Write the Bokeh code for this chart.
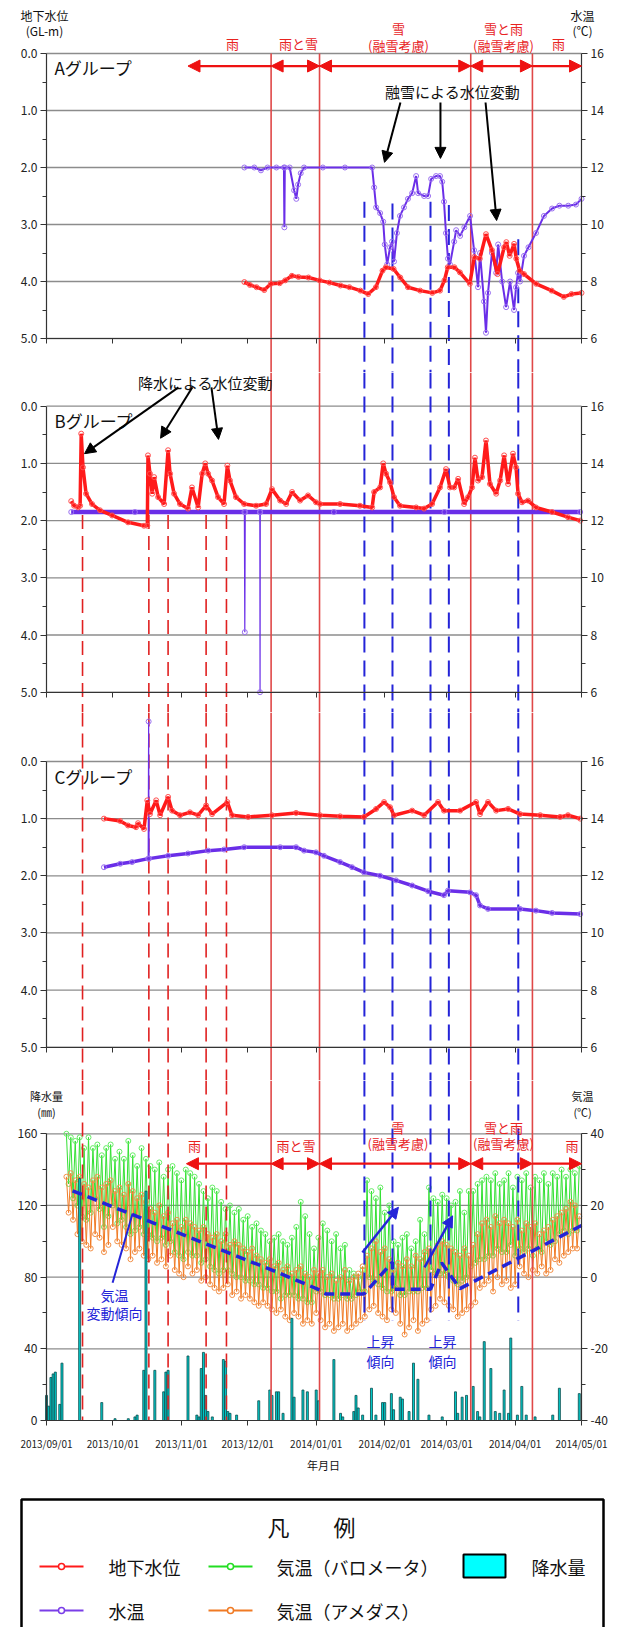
import numpy as np
from bokeh.plotting import figure
from bokeh.layouts import column
from bokeh.models import Range1d, LinearAxis, FixedTicker, Arrow, NormalHead
from bokeh.core.properties import value
from bokeh.embed import file_html
from bokeh.resources import INLINE

FONT = "Noto Sans CJK JP"

# ------------------------------------------------------------------ data
# x values: days since 2013/09/01
month_days = [0, 30, 61, 91, 122, 153, 181, 212, 242]
month_labels = ["2013/09/01", "2013/10/01", "2013/11/01", "2013/12/01", "2014/01/01",
                "2014/02/01", "2014/03/01", "2014/04/01", "2014/05/01"]
depth_ticks = [0, 1, 2, 3, 4, 5]
depth_labels = ["0.0", "1.0", "2.0", "3.0", "4.0", "5.0"]
wtemp_ticks = [6, 8, 10, 12, 14, 16]
wtemp_labels = ["6", "8", "10", "12", "14", "16"]
rain_ticks = [0, 40, 80, 120, 160]
rain_labels = ["0", "40", "80", "120", "160"]
air_ticks = [-40, -20, 0, 20, 40]
air_labels = ["-40", "-20", "0", "20", "40"]

period_edges = [64.0, 101.6, 123.5, 191.9, 219.8, 242.0]
period_names = ["雨", "雨と雪", "雪", "雪と雨", "雨"]
period_notes = ["", "", "(融雪考慮)", "(融雪考慮)", ""]

red_solid_days = [101.6, 123.5, 191.9, 219.8]
red_dash_days = [16.3, 46.3, 55.0, 72.2, 81.4]
blue_dash_days = [143.8, 156.5, 173.7, 182.0, 213.4]
blue_dash_top_a = [2.60, 2.63, 2.60, 2.66, 3.26]

# A group
a_gw_day = [89.5, 92, 95, 98.5, 101.5, 105.5, 108, 111, 114, 118.5, 123.5, 128, 133, 137, 142,
            145.5, 149, 152, 153.5, 157, 160, 163.5, 169, 174.5, 178, 180, 181.5, 184.5, 187, 191.5,
            193.5, 196, 198.8, 201.5, 204, 207, 208, 209.5, 211.5, 212.5, 214, 216, 221.5, 228.5,
            234, 237.5, 242]
a_gw = [4.01, 4.06, 4.10, 4.15, 4.04, 4.03, 3.98, 3.90, 3.92, 3.93, 3.98, 4.02, 4.07, 4.10, 4.16,
        4.22, 4.10, 3.81, 3.75, 3.78, 3.93, 4.10, 4.16, 4.20, 4.16, 3.98, 3.75, 3.75, 3.84, 4.04,
        3.57, 3.60, 3.17, 3.45, 3.87, 3.40, 3.31, 3.55, 3.34, 3.60, 3.81, 3.87, 4.04, 4.16,
        4.27, 4.22, 4.20]
a_wt_day = [89.5, 94, 97, 100, 104, 107.4, 107.6, 107.8, 110, 112, 113, 113.8, 115, 116.5, 125,
            135, 147.3, 148.2, 149.1, 150.9, 152.3, 153, 154.1, 155.4, 156.3, 157.2, 158.5, 159.9,
            161.7, 163.5, 165.4, 167.2, 168.1, 170.8, 172.6, 174, 176.2, 178, 179, 179.8, 180.7,
            181.6, 182.5, 184.4, 185.3, 187.1, 189, 191.6, 193.4, 195.2, 196.1, 197.9, 198.8,
            199.7, 201.5, 203.4, 204.3, 206.1, 207.9, 209.7, 211.5, 212.4, 213.3, 214.2, 216, 218,
            221.4, 225, 228.7, 232, 236, 239.5, 242]
a_wt = [12.0, 12.0, 11.9, 12.0, 12.0, 12.0, 9.9, 12.0, 12.0, 11.2, 10.9, 11.4, 11.8, 12.0, 12.0,
        12.0, 12.0, 11.3, 10.6, 10.4, 10.1, 9.3, 8.6, 9.2, 9.4, 8.7, 9.7, 10.3,
        10.6, 10.9, 11.1, 11.7, 11.1, 11.0, 11.0, 11.6, 11.7, 11.7, 11.5, 10.8, 9.7,
        8.8, 8.6, 9.4, 9.8, 9.6, 9.9, 10.3, 9.1, 7.8, 9.0, 7.3, 6.2,
        7.6, 9.0, 8.3, 9.3, 8.0, 7.1, 8.0, 7.0, 7.8, 8.3, 8.0, 8.9, 9.2,
        9.7, 10.3, 10.56, 10.66, 10.66, 10.7, 10.9]

# B group
b_gw_day = [11.2, 12.5, 14.3, 15.2, 15.7, 16.5, 17.9, 20.6, 24.2, 29.7, 36.9, 44.1, 45.6, 45.9,
            46.8, 47.8, 48.7, 50.5, 53.2, 55.0, 55.9, 57.7, 60.4, 64.0, 65.8, 68.6, 70.4, 71.8,
            73.1, 74.9, 77.6, 80.3, 81.8, 83.0, 85.7, 89.4, 94.8, 99.3, 102.0, 105.7, 108.4,
            111.1, 114.7, 118.3, 121.9, 123.7, 132.8, 141.8, 147.3, 148.2, 150.9, 152.3, 153.6,
            155.4, 157.2, 159.9, 167.2, 170.8, 174.4, 178.0, 180.7, 182.5, 184.4, 186.2, 188.9,
            190.7, 192.5, 193.8, 195.2, 197.0, 198.8, 200.6, 203.4, 205.2, 207.0, 208.8, 211.0,
            212.4, 213.3, 215.1, 217.8, 221.4, 228.7, 235.9, 241.4]
b_gw = [1.66, 1.74, 1.77, 1.74, 0.48, 1.07, 1.53, 1.71, 1.82, 1.91, 2.03, 2.09, 2.09, 0.86,
        1.18, 1.53, 1.24, 1.59, 1.71, 0.77, 1.18, 1.53, 1.71, 1.79, 1.42, 1.77, 1.18, 1.00,
        1.18, 1.30, 1.59, 1.71, 1.04, 1.30, 1.59, 1.71, 1.74, 1.71, 1.45, 1.65, 1.71,
        1.50, 1.65, 1.56, 1.68, 1.71, 1.71, 1.74, 1.77, 1.50, 1.42, 1.00, 1.18,
        1.33, 1.59, 1.74, 1.77, 1.79, 1.71, 1.42, 1.10, 1.42, 1.42, 1.27, 1.71,
        1.59, 1.42, 0.90, 1.30, 1.24, 0.60, 1.36, 1.53, 1.30, 0.86, 1.36, 0.83,
        1.07, 1.53, 1.68, 1.65, 1.77, 1.85, 1.94, 2.00]
b_wt_day = [11.2, 40, 89.5, 89.7, 89.9, 96.5, 96.6, 96.7, 130, 180, 241.4]
b_wt = [12.3, 12.3, 12.3, 8.1, 12.3, 12.3, 6.0, 12.3, 12.3, 12.3, 12.3]

# C group
c_gw_day = [26.0, 33.3, 36.9, 40.5, 41.4, 44.1, 45.6, 46.8, 49.6, 51.4, 55.0, 56.8, 60.4, 64.9,
            68.6, 72.2, 74.9, 81.8, 83.9, 91.2, 102.0, 112.9, 123.7, 132.8, 143.6, 149.1, 152.7,
            155.4, 157.2, 165.4, 170.8, 177.1, 179.8, 187.1, 194.3, 196.1, 199.7, 203.4, 208.8,
            214.2, 223.3, 232.3, 235.9, 241.4]
c_gw = [1.00, 1.04, 1.12, 1.15, 1.08, 1.18, 0.68, 0.92, 0.68, 0.94, 0.62, 0.86, 0.94, 0.89,
        0.94, 0.77, 0.92, 0.71, 0.94, 0.97, 0.94, 0.90, 0.94, 0.96, 0.97, 0.83, 0.71,
        0.80, 0.94, 0.86, 0.94, 0.71, 0.86, 0.86, 0.71, 0.92, 0.71, 0.86, 0.83,
        0.92, 0.94, 0.97, 0.94, 1.00]
c_wt_day = [26.0, 33.3, 38.7, 46.0, 46.2, 46.4, 55.0, 64.0, 73.1, 80.3, 89.4, 105.7, 112.9, 116.5,
            121.9, 125.5, 132.8, 138.2, 143.6, 150.9, 158.1, 165.4, 172.6, 179.8, 181.6, 191.6,
            194.3, 196.1, 199.7, 214.2, 221.4, 228.7, 241.4]
c_wt = [12.30, 12.42, 12.48, 12.60, 17.4, 12.60, 12.70, 12.78, 12.88, 12.92, 13.00, 13.00, 13.00,
        12.88, 12.82, 12.70, 12.48, 12.30, 12.12, 12.00, 11.84, 11.66, 11.46, 11.32, 11.48,
        11.42, 11.32, 10.96, 10.84, 10.84, 10.78, 10.70, 10.66]

# precipitation (mm/day)
rain_day = [0, 1, 2, 3, 4, 6, 7, 15, 25, 31, 37, 40, 41, 44, 45, 49, 53, 54, 55, 64, 68, 69, 70,
            71, 72, 73, 75, 80, 81, 82, 83, 86, 96, 101, 102, 104, 105, 107, 111, 112, 116, 118,
            122, 123, 130, 133, 134, 139, 140, 141, 143, 147, 149, 152, 153, 156, 157, 160, 161,
            164, 166, 168, 173, 179, 185, 186, 188, 190, 193, 195, 196, 198, 201, 203, 205, 207,
            209, 210, 213, 215, 217, 221, 229, 232, 241]
rain_mm = [14, 8, 24, 26, 27, 9, 32, 135, 10, 1, 1, 2, 3, 28, 128, 28, 16, 27, 28, 36, 3, 2, 29,
           38, 14, 5, 2, 34, 33, 5, 4, 3, 11, 17, 14, 16, 16, 4, 57, 13, 17, 16,
           17, 11, 34, 4, 2, 5, 14, 7, 3, 18, 3, 10, 10, 15, 6, 13, 12,
           5, 32, 23, 3, 2, 16, 4, 13, 14, 19, 5, 2, 44, 29, 5, 4, 17,
           4, 46, 3, 19, 3, 2, 3, 18, 15]

# air temperature, one reading per day from 2013/09/10 (alternating day / night readings)
air_day = list(range(9, 242))
air_baro = [40, 26, 39, 22, 38, 20, 39, 17, 36, 16,
            39, 18, 36, 22, 37, 19, 34, 14, 36, 17,
            37, 20, 33, 15, 35, 16, 33, 14, 38, 12,
            34, 13, 31, 14, 36, 12, 33, 12, 31, 11,
            30, 10, 32, 11, 28, 9, 30, 10, 31, 7,
            29, 6, 27, 5, 30, 7, 29, 6, 28, 6,
            26, 4, 24, 5, 22, 3, 25, 2, 24, 1,
            21, 2, 19, 2, 20, 1, 18, 0, 19, 0,
            16, -1, 17, -1, 14, -2, 15, -2, 13, -3,
            12, -3, 10, -4, 11, -4, 12, -6, 10, -5,
            9, -5, 11, -5, 14, -6, 21, -6, 17, -7,
            12, -7, 8, -4, 11, -4, 15, -5, 13, -5,
            10, -6, 12, -6, 8, -5, 9, -6, 2, -6,
            1, -5, 0, -4, 2, -4, 27, 0, 24, -1,
            22, -2, 25, -3, 18, -4, 20, -4, 10, -3,
            9, -5, 11, -5, 12, -4, 8, -4, 10, -4,
            16, -3, 12, -3, 25, 2, 22, 1, 21, 1,
            23, 1, 22, 0, 20, -1, 21, -2, 24, -1,
            18, 0, 24, 3, 24, 4, 26, 5, 27, 5,
            28, 6, 27, 6, 29, 8, 26, 7, 27, 7,
            29, 9, 25, 6, 28, 8, 27, 7, 29, 8,
            25, 6, 28, 8, 27, 7, 29, 10, 26, 9,
            29, 10, 28, 12, 30, 13, 28, 12, 30, 13,
            29, 13, 31]
air_amedas = [28, 18, 29, 16, 27, 12, 28, 10, 26, 9,
              25, 8, 27, 12, 28, 11, 25, 7, 26, 9,
              27, 14, 24, 10, 25, 9, 23, 8, 26, 5,
              24, 7, 22, 8, 23, 6, 21, 5, 19, 6,
              18, 4, 20, 5, 17, 3, 18, 6, 15, 2,
              16, 1, 14, 0, 16, 3, 15, 1, 14, 2,
              13, -1, 14, 0, 12, -2, 11, -3, 12, -4,
              10, -3, 12, -2, 9, -5, 10, -4, 9, -6,
              8, -5, 7, -6, 8, -7, 6, -8, 5, -7,
              4, -8, 5, -9, 3, -10, 4, -9, 2, -11,
              3, -12, 1, -10, 2, -11, 3, -13, 1, -12,
              0, -13, 2, -10, 1, -12, 2, -14, 0, -13,
              1, -15, -1, -14, 0, -13, 2, -15, -1, -14,
              0, -13, 1, -12, 3, -11, 6, -9, 8, -8,
              10, -10, 7, -11, 8, -12, 5, -9, 2, -10,
              4, -13, 3, -16, 5, -14, 3, -12, 6, -15,
              5, -13, 7, -12, 8, -9, 7, -8, 9, -6,
              10, -7, 9, -8, 8, -9, 7, -11, 6, -10,
              8, -9, 6, -8, 9, -7, 12, -3, 15, -2,
              16, -1, 14, -4, 17, 0, 15, -2, 16, -1,
              15, -3, 14, -2, 16, 3, 13, 1, 15, 0,
              14, 2, 15, 1, 12, 3, 13, 1, 14, 2,
              16, 5, 17, 4, 18, 6, 19, 7, 21, 8,
              20, 8, 17]

# air temperature trend (blue dashed)
trend_day = [11.8, 102.0, 123.7, 126.4, 143.6, 156.5, 156.5, 173.7, 178.7, 187.0, 242.0]
trend_temp = [24.1, 1.95, -3.6, -4.7, -4.7, 4.2, -3.4, -3.4, 4.0, -3.2, 14.4]

legend_labels = ["地下水位", "気温（バロメータ）", "降水量", "水温", "気温（アメダス）"]

# ------------------------------------------------------------------ colours
RED = "#ff1a1a"
RED_MK = "#ff5050"
RED_LINE = "#e04848"
RED_TXT = "#e8231f"
PURPLE = "#6a2ee8"
PURPLE_MK = "#9a70f0"
BLUE = "#2424d8"
GREEN = "#33e033"
ORANGE = "#f07a24"
GRID = "#8c8c8c"
AXIS = "#333333"

# ------------------------------------------------------------------ layout helpers
W = 626
FX0, FX1 = 46.0, 581.0          # frame pixel of day 0 / day 242
PPD = (FX1 - FX0) / 242.0
xr = Range1d(-FX0 / PPD, 242.0 + (W - FX1) / PPD)


def base_fig(h, yr):
    p = figure(width=W, height=h, x_range=xr, y_range=yr, x_axis_type=None, y_axis_type=None,
               toolbar_location=None, output_backend="svg", min_border=0)
    p.outline_line_color = None
    p.border_fill_color = "white"
    p.background_fill_color = "white"
    return p


def style_axis(ax, size="12px"):
    ax.axis_line_color = AXIS
    ax.axis_line_width = 1.2
    ax.major_tick_line_color = AXIS
    ax.major_tick_out = 6
    ax.major_tick_in = 0
    ax.minor_tick_line_color = AXIS
    ax.minor_tick_out = 4
    ax.minor_tick_in = 0
    ax.major_label_text_font = FONT
    ax.major_label_text_font_size = size
    ax.major_label_text_color = "#222222"
    ax.major_label_standoff = 3


def txt(p, x, y, s, size, color="#111111", align="center", yname="default"):
    p.text(x=[x], y=[y], text=[s], text_font=value(FONT), text_font_size=value(size),
           text_color=color, text_align=align, text_baseline="middle", y_range_name=yname)


def arrow(p, x0, y0, x1, y1, color, lw=2, head=10, yname="default", start=False, end=True):
    a = Arrow(x_start=x0, y_start=y0, x_end=x1, y_end=y1, line_color=color, line_width=lw,
              y_range_name=yname,
              start=NormalHead(size=head, fill_color=color, line_color=color) if start else None,
              end=NormalHead(size=head, fill_color=color, line_color=color) if end else None)
    p.add_layout(a)


def depth_panel(top, bottom, zero, unit):
    d_top = (top - zero) / unit
    d_bot = (bottom - zero) / unit
    p = base_fig(int(bottom - top), Range1d(d_bot, d_top))
    p.extra_y_ranges = {"wt": Range1d(16 - 2 * d_bot, 16 - 2 * d_top)}
    n = len(depth_ticks)
    p.segment(x0=[0] * n, x1=[242] * n, y0=depth_ticks, y1=depth_ticks,
              line_color=GRID, line_width=1.3)
    yl = LinearAxis(fixed_location=0, bounds=(0, 5),
                    ticker=FixedTicker(ticks=depth_ticks, minor_ticks=[0.5, 1.5, 2.5, 3.5, 4.5]),
                    major_label_overrides=dict(zip(depth_ticks, depth_labels)))
    style_axis(yl)
    p.add_layout(yl, "left")
    yr2 = LinearAxis(y_range_name="wt", fixed_location=242, bounds=(6, 16),
                     ticker=FixedTicker(ticks=wtemp_ticks, minor_ticks=[7, 9, 11, 13, 15]),
                     major_label_overrides=dict(zip(wtemp_ticks, wtemp_labels)))
    style_axis(yr2)
    p.add_layout(yr2, "right")
    xa = LinearAxis(fixed_location=5, bounds=(0, 242), ticker=FixedTicker(ticks=month_days),
                    major_label_overrides={d: "" for d in month_days})
    style_axis(xa)
    xa.major_tick_out = 5
    p.add_layout(xa, "below")
    return p, d_top, d_bot


def series(p, x, y, color, mk, lw, yname="default", band=None, size=5):
    p.line(x, y, line_color=color, line_width=lw if band is None else 1.2, y_range_name=yname)
    if band is not None:
        bx = [xi for xi, k in zip(x, band) if k]
        by = [yi for yi, k in zip(y, band) if k]
        p.line(bx, by, line_color=color, line_width=lw, y_range_name=yname)
    p.scatter(x, y, marker="circle", size=size, fill_color=None, line_color=mk, line_width=1,
              y_range_name=yname)


# ------------------------------------------------------------------ panel A
pa, a_top, a_bot = depth_panel(0, 372, 53.0, 57.0)
pa.segment(x0=red_solid_days, x1=red_solid_days, y0=[0] * 4, y1=[a_bot] * 4,
           line_color=RED_LINE, line_width=1.6)
pa.segment(x0=blue_dash_days, x1=blue_dash_days, y0=blue_dash_top_a, y1=[a_bot] * 5,
           line_color=BLUE, line_width=2, line_dash="16 8")
series(pa, a_wt_day, a_wt, PURPLE, PURPLE_MK, 2, "wt")
series(pa, a_gw_day, a_gw, RED, RED_MK, 3.5)
txt(pa, -0.9, -0.667, "地下水位", "12px")
txt(pa, -0.9, -0.40, "(GL-m)", "12px")
txt(pa, 242.5, -0.667, "水温", "12px")
txt(pa, 242.5, -0.40, "(℃)", "12px")
a_lab_x = [84.1, 114.0, 159.2, 206.7, 231.6]
for i, nm in enumerate(period_names):
    if period_notes[i]:
        txt(pa, a_lab_x[i], -0.44, nm, "13px", RED_TXT)
        txt(pa, a_lab_x[i], -0.14, period_notes[i], "13px", RED_TXT)
    else:
        txt(pa, a_lab_x[i], -0.175, nm, "13px", RED_TXT)
for i in range(5):
    arrow(pa, period_edges[i], 0.22, period_edges[i + 1], 0.22, "#ee1111", lw=2.2, head=12,
          start=(i < 4), end=(i > 0))
txt(pa, 3.6, 0.25, "Aグループ", "17px", align="left")
txt(pa, 183.7, 0.667, "融雪による水位変動", "15px")
arrow(pa, 160.1, 0.86, 152.9, 1.91, "black", lw=2, head=11)
arrow(pa, 178.2, 0.86, 178.2, 1.84, "black", lw=2, head=11)
arrow(pa, 198.6, 0.86, 203.6, 2.93, "black", lw=2, head=11)

# ------------------------------------------------------------------ panel B
pb, b_top, b_bot = depth_panel(372, 712, 405.7, 57.2)
pb.segment(x0=red_solid_days, x1=red_solid_days, y0=[b_top] * 4, y1=[b_bot] * 4,
           line_color=RED_LINE, line_width=1.6)
pb.segment(x0=blue_dash_days, x1=blue_dash_days, y0=[b_top] * 5, y1=[b_bot] * 5,
           line_color=BLUE, line_width=2, line_dash="16 8")
pb.segment(x0=red_dash_days, x1=red_dash_days, y0=[1.9] * 5, y1=[b_bot] * 5,
           line_color="#e02020", line_width=1.6, line_dash="14 7")
series(pb, b_wt_day, b_wt, PURPLE, PURPLE_MK, 4.5, "wt", band=[v > 11 for v in b_wt])
series(pb, b_gw_day, b_gw, RED, RED_MK, 3.5)
txt(pb, 3.6, 0.25, "Bグループ", "17px", align="left")
txt(pb, 71.9, -0.41, "降水による水位変動", "15px")
arrow(pb, 59.7, -0.33, 17.2, 0.83, "black", lw=2, head=11)
arrow(pb, 66.0, -0.33, 51.6, 0.56, "black", lw=2, head=11)
arrow(pb, 74.6, -0.33, 77.8, 0.58, "black", lw=2, head=11)

# ------------------------------------------------------------------ panel C
pc, c_top, c_bot = depth_panel(712, 1080, 761.0, 57.14)
pc.segment(x0=red_solid_days, x1=red_solid_days, y0=[c_top] * 4, y1=[c_bot] * 4,
           line_color=RED_LINE, line_width=1.6)
pc.segment(x0=blue_dash_days, x1=blue_dash_days, y0=[c_top] * 5, y1=[c_bot] * 5,
           line_color=BLUE, line_width=2, line_dash="16 8")
pc.segment(x0=red_dash_days, x1=red_dash_days, y0=[c_top] * 5, y1=[c_bot] * 5,
           line_color="#e02020", line_width=1.6, line_dash="14 7")
series(pc, c_wt_day, c_wt, PURPLE, PURPLE_MK, 3.5, "wt", band=[v < 15 for v in c_wt])
series(pc, c_gw_day, c_gw, RED, RED_MK, 3.5)
txt(pc, 3.6, 0.27, "Cグループ", "17px", align="left")

# ------------------------------------------------------------------ panel D (+ legend)
D_TOP, D_BOT, D_ZERO, MM_PX = 1080, 1627, 1420.0, 1.792
TEMP_PX = 3.584
mm_top = (D_ZERO - D_TOP) / MM_PX
mm_bot = (D_ZERO - D_BOT) / MM_PX
pd_ = base_fig(D_BOT - D_TOP, Range1d(mm_bot, mm_top))
pd_.extra_y_ranges = {"air": Range1d((D_ZERO - D_BOT) / TEMP_PX - 40,
                                     (D_ZERO - D_TOP) / TEMP_PX - 40)}
pd_.segment(x0=[0] * 4, x1=[242] * 4, y0=rain_ticks[1:], y1=rain_ticks[1:],
            line_color=GRID, line_width=1.3)
series(pd_, air_day, air_baro, GREEN, "#66ee66", 1, "air", size=5)
series(pd_, air_day, air_amedas, ORANGE, "#f39048", 1, "air", size=5)
pd_.vbar(x=rain_day, top=rain_mm, bottom=0, width=0.9, fill_color="#00cccc",
         line_color="#0b4a4a", line_width=0.8)
pd_.segment(x0=red_solid_days, x1=red_solid_days, y0=[mm_top] * 4, y1=[0] * 4,
            line_color=RED_LINE, line_width=1.6)
pd_.segment(x0=blue_dash_days, x1=blue_dash_days, y0=[mm_top] * 5, y1=[55.7] * 5,
            line_color=BLUE, line_width=2, line_dash="16 8")
pd_.segment(x0=red_dash_days, x1=red_dash_days, y0=[mm_top] * 5, y1=[0] * 5,
            line_color="#e02020", line_width=1.6, line_dash="14 7")
pd_.line(trend_day, trend_temp, line_color=BLUE, line_width=3.5, line_dash="10 6",
         y_range_name="air")

dl = LinearAxis(fixed_location=0, bounds=(0, 160),
                ticker=FixedTicker(ticks=rain_ticks, minor_ticks=[20, 60, 100, 140]),
                major_label_overrides=dict(zip(rain_ticks, rain_labels)))
style_axis(dl)
pd_.add_layout(dl, "left")
dr = LinearAxis(y_range_name="air", fixed_location=242, bounds=(-40, 40),
                ticker=FixedTicker(ticks=air_ticks, minor_ticks=[-30, -10, 10, 30]),
                major_label_overrides=dict(zip(air_ticks, air_labels)))
style_axis(dr)
pd_.add_layout(dr, "right")
dx = LinearAxis(fixed_location=0, bounds=(0, 242), ticker=FixedTicker(ticks=month_days),
                major_label_overrides=dict(zip(month_days, month_labels)))
style_axis(dx, "10px")
dx.major_tick_out = 5
dx.major_label_standoff = 10
pd_.add_layout(dx, "below")

txt(pd_, 0, 181.2, "降水量", "11px")
txt(pd_, 0, 172.2, "(㎜)", "11px")
txt(pd_, 242.5, 181.2, "気温", "11px")
txt(pd_, 242.5, 172.2, "(℃)", "11px")
d_lab_x = [67.0, 112.9, 159.0, 206.7, 237.7]
for i, nm in enumerate(period_names):
    if period_notes[i]:
        txt(pd_, d_lab_x[i], 163.3, nm, "13px", RED_TXT)
        txt(pd_, d_lab_x[i], 154.4, period_notes[i], "13px", RED_TXT)
    else:
        txt(pd_, d_lab_x[i], 153.3, nm, "13px", RED_TXT)
d_edges = [63.3] + period_edges[1:]
for i in range(5):
    arrow(pd_, d_edges[i], 143.3, d_edges[i + 1], 143.3, "#ee1111", lw=2.2, head=12,
          start=(i < 4), end=(i > 0))
pd_.segment(x0=[29.9], y0=[-1.55], x1=[38.9], y1=[17.7], line_color=BLUE, line_width=2,
            y_range_name="air")
txt(pd_, 30.8, -4.9, "気温", "14px", BLUE, yname="air")
txt(pd_, 30.8, -10.1, "変動傾向", "14px", BLUE, yname="air")
txt(pd_, 151.1, -17.7, "上昇", "14px", BLUE, yname="air")
txt(pd_, 151.1, -23.3, "傾向", "14px", BLUE, yname="air")
txt(pd_, 179.1, -17.7, "上昇", "14px", BLUE, yname="air")
txt(pd_, 179.1, -23.3, "傾向", "14px", BLUE, yname="air")
arrow(pd_, 142.9, 6.9, 159.2, 19.5, BLUE, lw=2.5, head=11, yname="air")
arrow(pd_, 171.0, 2.7, 183.7, 17.1, BLUE, lw=2.5, head=11, yname="air")
txt(pd_, 125.3, -25.1, "年月日", "11px")


# legend box, drawn inside the bottom figure (page pixel -> data helpers)
def LX(px):
    return (px - FX0) / PPD


def LY(py):
    return (D_ZERO - py) / MM_PX


pd_.quad(left=[LX(21)], right=[LX(603)], top=[LY(1499)], bottom=[LY(1700)], fill_color=None,
         line_color="black", line_width=2.5)
txt(pd_, LX(311), LY(1525), "凡　　例", "22px")
leg_cols = [RED, "#22dd22", None, "#7a3ee8", ORANGE]
leg_pos = [(39, 1566, 108), (208, 1566, 276), (463, 1566, 531), (39, 1610, 108), (208, 1610, 276)]
for lab, col, (lx, ly, tx) in zip(legend_labels, leg_cols, leg_pos):
    if col is None:
        pd_.quad(left=[LX(lx)], right=[LX(lx + 42)], top=[LY(ly - 12)], bottom=[LY(ly + 11)],
                 fill_color="cyan", line_color="black", line_width=2)
    else:
        pd_.line([LX(lx), LX(lx + 44)], [LY(ly), LY(ly)], line_color=col, line_width=2)
        pd_.scatter([LX(lx + 22)], [LY(ly)], marker="circle", size=6, fill_color="white",
                    line_color=col, line_width=1.5)
    txt(pd_, LX(tx), LY(ly), lab, "18px", align="left")

layout = column(pa, pb, pc, pd_, spacing=0)
open("out.html", "w").write(file_html(layout, INLINE))
